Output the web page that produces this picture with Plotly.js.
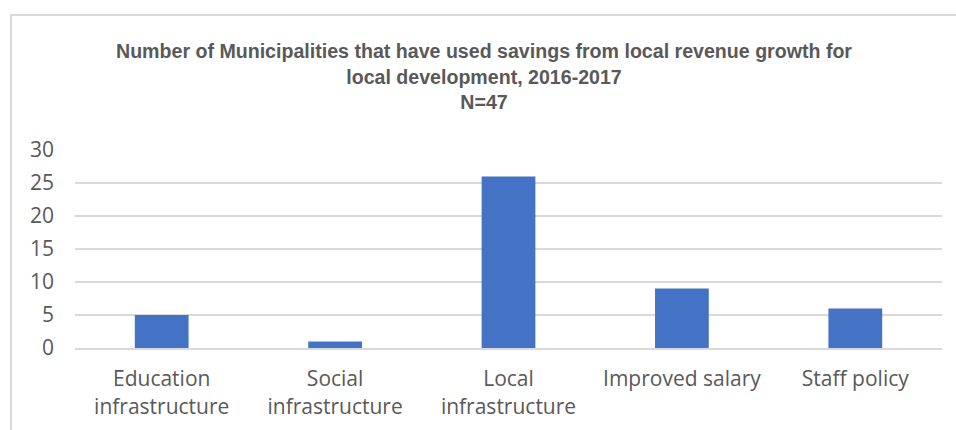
<!DOCTYPE html>
<html>
<head>
<meta charset="utf-8">
<script src="https://cdn.plot.ly/plotly-3.0.1.min.js"></script>
<style>
  html, body { margin: 0; padding: 0; background: #fff; }
  #frame { position: absolute; left: 10px; top: 14px; width: 946px; height: 416px;
           border-left: 2px solid #d9d9d9; border-top: 2px solid #d9d9d9; box-sizing: border-box; }
  #chart { width: 944px; height: 414px; }
</style>
</head>
<body>
<div id="frame"><div id="chart"></div></div>
<script>
const categories = [
  "Education<br>infrastructure",
  "Social<br>infrastructure",
  "Local<br>infrastructure",
  "Improved salary",
  "Staff policy"
];
const values = [5, 1, 26, 9, 6];
const yTicks = [0, 5, 10, 15, 20, 25, 30];
const titleText = "Number of Municipalities that have used savings from local revenue growth for<br>local development, 2016-2017<br>N=47";

const trace = {
  type: "bar",
  x: categories,
  y: values,
  marker: { color: "#4472c4" },
  hoverinfo: "x+y"
};

const layout = {
  width: 944,
  height: 414,
  margin: { l: 63, r: 14, t: 134, b: 82 },
  paper_bgcolor: "#ffffff",
  plot_bgcolor: "#ffffff",
  bargap: 0.69,
  showlegend: false,
  title: {
    text: titleText,
    font: { family: "Liberation Sans Narrow, Arial Narrow, Liberation Sans, sans-serif", size: 19.6, color: "#595959", weight: "bold" },
    x: 0.5, xanchor: "center", xref: "container",
    y: 0.898, yanchor: "top", yref: "container"
  },
  xaxis: {
    tickfont: { family: "Open Sans, sans-serif", size: 21, color: "#595959" },
    showgrid: false,
    showline: true,
    linecolor: "#d9d9d9",
    linewidth: 2,
    ticks: "",
    ticklabelstandoff: 11
  },
  yaxis: {
    range: [0, 30],
    tickvals: yTicks,
    ticktext: yTicks.map(String),
    tickfont: { family: "Open Sans, sans-serif", size: 21, color: "#595959" },
    showgrid: true,
    gridcolor: "#d9d9d9",
    gridwidth: 2,
    zeroline: false,
    showline: false,
    ticks: "",
    ticklabelstandoff: 20
  }
};

Plotly.newPlot("chart", [trace], layout, { displayModeBar: false, staticPlot: true });
</script>
</body>
</html>
